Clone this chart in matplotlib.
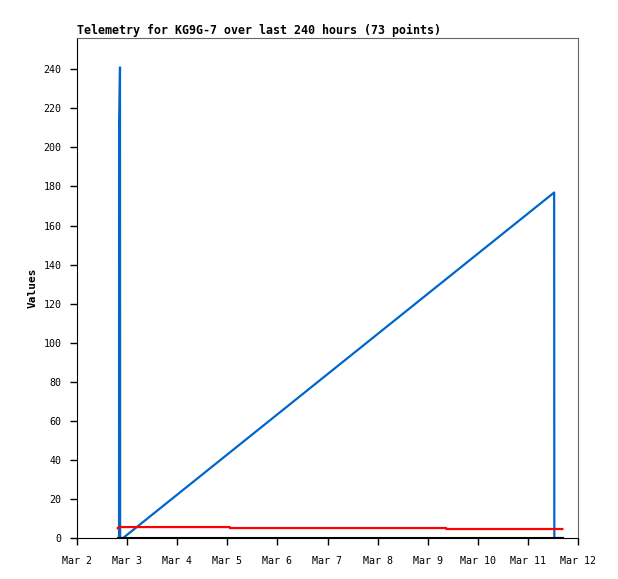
import numpy as np
import matplotlib
matplotlib.use('Agg')
import matplotlib.pyplot as plt
import matplotlib.dates as mdates

# valores (horarios aproximados)
t_azul = ['2025-03-02T19:50', '2025-03-02T20:08', '2025-03-02T20:10', '2025-03-02T20:36',
          '2025-03-02T20:40', '2025-03-02T22:05', '2025-03-11T12:35', '2025-03-11T12:40',
          '2025-03-11T16:30']
v_azul = [0, 0, 209, 241, 0, 0, 176.9, 0, 0]

t_vermelho = ['2025-03-02T19:32', '2025-03-02T20:00', '2025-03-02T20:05', '2025-03-05T01:10',
              '2025-03-05T01:15', '2025-03-09T08:50', '2025-03-09T08:55', '2025-03-11T16:30']
v_vermelho = [5.0, 5.0, 5.6, 5.6, 5.1, 5.1, 4.6, 4.6]

t_preto = ['2025-03-02T19:32', '2025-03-11T16:30']
v_preto = [0, 0]

titulo = 'Telemetry for KG9G-7 over last 240 hours (73 points)'

t_azul = np.array(t_azul, dtype='datetime64[m]')
t_vermelho = np.array(t_vermelho, dtype='datetime64[m]')
t_preto = np.array(t_preto, dtype='datetime64[m]')

fig = plt.figure(figsize=(6.18, 5.79), dpi=100)
ax = fig.add_axes([77/618, 41/579, 501/618, 500/579])

ax.plot(t_azul, v_azul, color='#0066cc', lw=1.6)
ax.plot(t_vermelho, v_vermelho, color='#ff0000', lw=1.6)
ax.plot(t_preto, v_preto, color='black', lw=2.2)

ax.set_xlim(np.datetime64('2025-03-02T00:00'), np.datetime64('2025-03-12T00:00'))
ax.set_ylim(0, 256)
ax.set_yticks(np.arange(0, 241, 20))
ax.xaxis.set_major_locator(mdates.DayLocator())
ax.xaxis.set_major_formatter(mdates.DateFormatter('%b %-d'))

mono = 'DejaVu Sans Mono'
for lb in ax.get_xticklabels() + ax.get_yticklabels():
    lb.set_family(mono)
    lb.set_fontsize(7.2)
ax.tick_params(axis='both', length=5, width=1, direction='out', pad=8)
ax.tick_params(axis='y', pad=6)

for s in ['top', 'right']:
    ax.spines[s].set_color('#666666')
for s in ['left', 'bottom']:
    ax.spines[s].set_color('black')

ax.set_ylabel('Values', family=mono, fontweight='bold', fontsize=8, labelpad=4)
ax.set_title(titulo, loc='left', family=mono, fontweight='bold', fontsize=8.4, pad=3)

plt.savefig('out.png', dpi=100)
